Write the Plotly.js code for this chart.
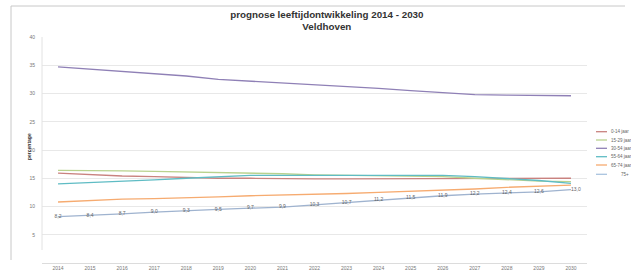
<!DOCTYPE html>
<html>
<head>
<meta charset="utf-8">
<script src="https://cdn.plot.ly/plotly-3.0.1.min.js"></script>
<style>html,body{margin:0;padding:0;background:#fff;}#chart{width:631px;height:273px;}</style>
</head>
<body>
<div id="chart"></div>
<script>
var years = ["2014","2015","2016","2017","2018","2019","2020","2021","2022","2023","2024","2025","2026","2027","2028","2029","2030"];
var names = ["0-14 jaar","15-29 jaar","30-54 jaar","55-64 jaar","65-74 jaar","75+"];
var colors = ["#c9827f","#b9d28e","#8f80b6","#5fbcc4","#f6ab70","#a9c3df"];
var v0_14  = [15.9,15.6,15.4,15.3,15.1,15.0,15.0,14.9,14.9,14.9,14.9,14.9,14.9,14.9,15.0,15.0,15.0];
var v15_29 = [16.4,16.4,16.3,16.2,16.1,16.0,16.0,15.8,15.6,15.5,15.4,15.3,15.3,15.0,14.7,14.5,14.4];
var v30_54 = [34.7,34.3,33.9,33.4,33.1,32.5,32.2,31.9,31.5,31.2,30.9,30.5,30.1,29.8,29.7,29.7,29.6];
var v55_64 = [14.0,14.2,14.4,14.7,15.0,15.3,15.5,15.5,15.5,15.5,15.5,15.5,15.5,15.3,15.0,14.6,14.1];
var v65_74 = [10.8,11.1,11.3,11.4,11.5,11.7,11.9,12.0,12.2,12.3,12.5,12.7,12.8,13.1,13.4,13.6,13.8];
var v75    = [8.2,8.4,8.7,9.0,9.3,9.5,9.7,9.9,10.3,10.7,11.2,11.5,11.9,12.2,12.4,12.6,13.0];
var series = [v0_14, v15_29, v30_54, v55_64, v65_74, v75];
var yTicks = [5,10,15,20,25,30,35,40];

var traces = series.map(function(s, i){
  var t = {x: years, y: s, type:"scatter", mode:"lines", name:names[i],
           line:{color:colors[i], width:1.3}, showlegend:false, hoverinfo:"skip"};
  if (i === 5) {
    t.mode = "lines+text";
    t.line.color = "#9fb3cf";
    t.text = s.map(function(v){return v.toFixed(1).replace(".", ",");});
    t.textposition = s.map(function(v, k){return k === s.length-1 ? "middle right" : "middle center";});
    t.textfont = {size:5, color:"#666", family:"Liberation Sans, Arial"};
  }
  return t;
});

function px2x(px){return (px-42)/545;}
function py2y(py){return (263-py)/226;}

var shapes = [
  {type:"line", xref:"paper", yref:"paper", x0:px2x(11), x1:px2x(625), y0:py2y(6), y1:py2y(6), line:{color:"#c8c8c8", width:1}},
  {type:"line", xref:"paper", yref:"paper", x0:px2x(11), x1:px2x(11), y0:py2y(6), y1:py2y(260), line:{color:"#c8c8c8", width:1}},
  {type:"line", xref:"paper", yref:"paper", x0:0, x1:0, y0:py2y(250), y1:1, line:{color:"#e2e2e2", width:1}}
];
var annotations = [
  {text:"<b>percentage</b>", xref:"paper", yref:"paper", x:px2x(24), y:py2y(147), textangle:-90,
   showarrow:false, font:{size:5, color:"#333", family:"Liberation Sans, Arial"}}
];
var legY = [131.7, 140, 148.3, 156.7, 165, 174.3];
names.forEach(function(n, i){
  shapes.push({type:"line", xref:"paper", yref:"paper", x0:px2x(596), x1:px2x(607), y0:py2y(legY[i]), y1:py2y(legY[i]),
               line:{color:colors[i], width:1.3}});
  annotations.push({text:n, xref:"paper", yref:"paper", x:px2x(i===5?619:609), y:py2y(legY[i]), xanchor:"left", yanchor:"middle",
                    showarrow:false, font:{size:4.5, color:"#666", family:"Liberation Sans, Arial"}});
});

var layout = {
  width:631, height:273,
  margin:{l:42, r:44, t:37, b:10, autoexpand:false},
  paper_bgcolor:"#fff", plot_bgcolor:"#fff",
  title:{text:"prognose leeftijdontwikkeling 2014 - 2030<br>Veldhoven", x:0.518, xanchor:"center",
         y:0.935, yanchor:"top", yref:"container",
         font:{size:9.8, family:"Liberation Sans, Arial", color:"#333", weight:"bold"}},
  xaxis:{type:"category", range:[-0.5,16.5], showgrid:false, zeroline:false, showline:true, linecolor:"#dcdcdc",
         ticks:"", tickfont:{size:5, color:"#777", family:"Liberation Sans, Arial"}, fixedrange:true},
  yaxis:{range:[0,40], tickvals:yTicks, showgrid:true, gridcolor:"#e8e8e8", gridwidth:1, zeroline:false,
         showline:false, ticks:"", ticklabelstandoff:6,
         tickfont:{size:5, color:"#777", family:"Liberation Sans, Arial"}, fixedrange:true},
  shapes:shapes, annotations:annotations, showlegend:false
};
Plotly.newPlot("chart", traces, layout, {staticPlot:true, displayModeBar:false});
</script>
</body>
</html>
